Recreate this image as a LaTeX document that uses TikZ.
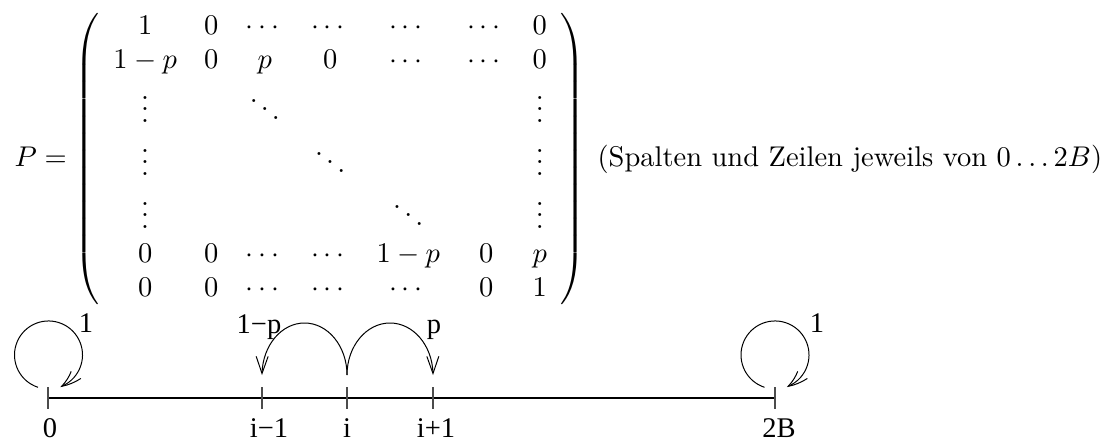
\documentclass[tikz,border=0pt]{standalone}
\usepackage{amsmath}
\usepackage{fontspec}
\newfontfamily\tms{Liberation Serif}
\usetikzlibrary{arrows.meta,bending}
\begin{document}
\begin{tikzpicture}[x=0.3509pt,y=-0.3509pt,
  lbl/.style={font=\tms\fontsize{10}{12}\selectfont, inner sep=0pt, anchor=base},
  axisline/.style={line width=0.4pt},
  tickline/.style={line width=0.4pt, black!70},
  trans/.style={line width=0.35pt, -{Straight Barb[length=6pt,width=4.2pt]}},
  looptrans/.style={line width=0.35pt, -{Straight Barb[bend,length=6.5pt,width=4.2pt]}}]
\useasboundingbox (0,0) rectangle (1113,442);
% matrix
\node[inner sep=0pt, anchor=base west] (mat) at (14,166) {$\arraycolsep=4.8pt P = \left(\begin{array}{ccccccc}
1 & 0 & \cdots & \cdots & \cdots & \cdots & 0\\
1-p & 0 & p & 0 & \cdots & \cdots & 0\\
\vdots & & \ddots & & & & \vdots\\
\vdots & & & \ddots & & & \vdots\\
\vdots & & & & \ddots & & \vdots\\
0 & 0 & \cdots & \cdots & 1-p & 0 & p\\
0 & 0 & \cdots & \cdots & \cdots & 0 & 1
\end{array}\right)$};
\node[inner sep=0pt, anchor=base west] (note) at (597,166) {(Spalten und Zeilen jeweils von $0\ldots2B$)};
% number line
\coordinate (t0) at (48,398);
\coordinate (tim) at (262,398);
\coordinate (ti) at (347,398);
\coordinate (tip) at (433,398);
\coordinate (tB) at (775,398);
\draw[axisline] (t0) -- (tB);
\foreach \t in {t0,tim,ti,tip,tB}
  \draw[tickline] (\t) ++(0,-11) -- ++(0,22);
\node[lbl] (l0) at (50,437) {0};
\node[lbl] (lim) at (269,437) {i−1};
\node[lbl] (li) at (347,437) {i};
\node[lbl] (lip) at (436,437) {i+1};
\node[lbl] (lB) at (779,437) {2B};
% self loops
\coordinate (s0) at (38,387.3);
\coordinate (sB) at (764.5,387.3);
\draw[looptrans] (s0) arc[start angle=108, end angle=430, radius=34];
\draw[looptrans] (sB) arc[start angle=108, end angle=430, radius=34];
\node[lbl] (w0) at (86,332) {1};
\node[lbl] (wB) at (817,332) {1};
% jumps
\coordinate (ai) at (347,375);
\draw[trans] (ai) arc[start angle=0, end angle=-180, x radius=42.5, y radius=52];
\draw[trans] (ai) arc[start angle=180, end angle=360, x radius=43, y radius=52];
\node[lbl] (wm) at (259,333) {1−p};
\node[lbl] (wp) at (434,333) {p};
\end{tikzpicture}
\end{document}
